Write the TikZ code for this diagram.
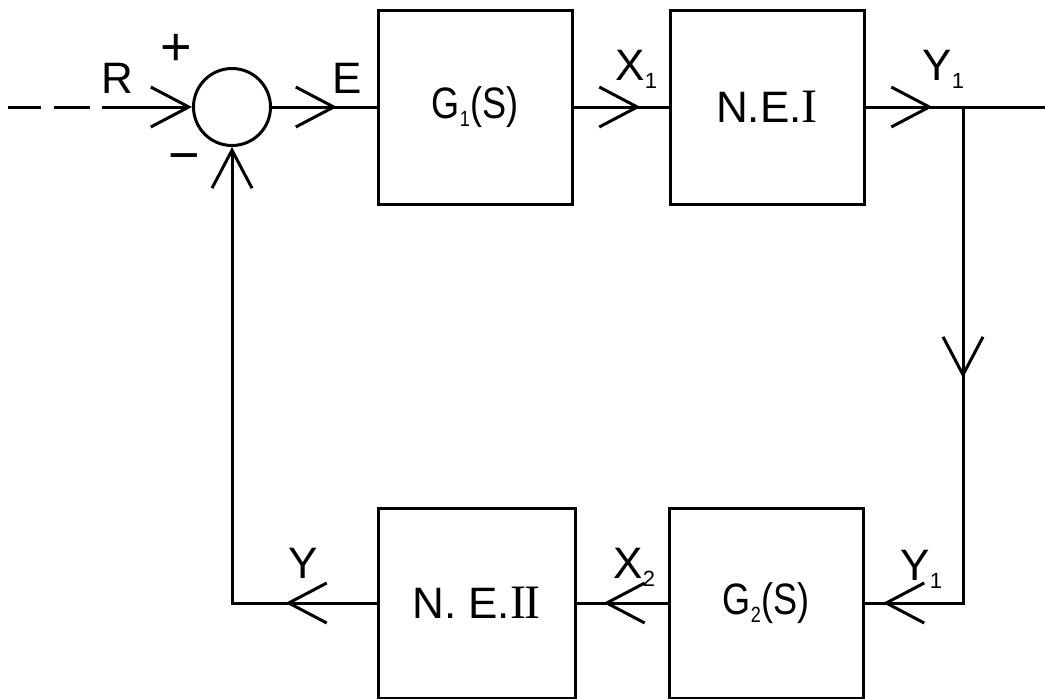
\documentclass[tikz,border=0pt]{standalone}
\usepackage{fontspec}
\setmainfont{Liberation Sans}
\newfontfamily\serfont{Liberation Serif}
\usetikzlibrary{arrows.meta,decorations.markings}
\newcommand\lowsub[1]{\raisebox{-8pt}{\fontsize{22}{22}\selectfont #1}}
\newcommand\romone{{\serfont\fontsize{48}{50}\selectfont I}}
\newcommand\romtwo{{\serfont\fontsize{48}{50}\selectfont I\kern-1.5pt I}}
\newcommand\narrow[1]{\scalebox{0.82}[1]{#1}}
\begin{document}
\begin{tikzpicture}[x=1pt,y=-1pt, line width=3pt,
  chev/.tip={Straight Barb[length=38pt,width=40pt]},
  blk/.style={draw, minimum width=194pt, minimum height=194pt, inner sep=0pt, line width=3pt, font=\fontsize{44}{50}\selectfont},
  lbl/.style={inner sep=0pt, anchor=base west, font=\fontsize{44}{50}\selectfont},
  sgn/.style={inner sep=0pt, font=\fontsize{54}{60}\selectfont},
  mid/.style={postaction={decorate}, decoration={markings, mark=at position #1 with {\arrow{chev}}}},
]
\useasboundingbox (0,0) rectangle (1045,699);
% blocks
\node[draw, circle, minimum size=77pt, inner sep=0pt] (sum) at (232,107) {};
\node[blk] (G1) at (475,107) {\narrow{G\lowsub{1}(S)}};
\node[blk] (NEI) at (767,107) {N.E.\romone};
\node[blk, minimum height=190pt] (G2) at (766,603) {\narrow{G\lowsub{2}(S)}};
\node[blk, minimum height=190pt, minimum width=197pt] (NEII) at (476.5,603) {N. E.\romtwo};
% coordinates
\coordinate (in) at (8,107);
\coordinate (rs) at (102,107);
\coordinate (out) at (1045,107);
\coordinate (br) at (963,107);
\coordinate (c1) at (963,603);
\coordinate (c2) at (232,603);
% connectors
\draw[dash pattern=on 33pt off 13pt on 36pt off 13pt] (in) -- (rs);
\draw[arrows={-chev}] (rs) -- (sum.west);
\draw[mid=65pt] (sum.east) -- (G1.west);
\draw[mid=67pt] (G1.east) -- (NEI.west);
\draw[mid=67pt] (NEI.east) -- (out);
\draw[postaction={decorate}, decoration={markings,
   mark=at position 271pt with {\arrow{chev}},
   mark=at position 576pt with {\arrow{chev}}}] (br) -- (c1) -- (G2.east);
\draw[mid=64pt] (G2.west) -- (NEII.east);
\draw[arrows={-chev}, mid=91pt] (NEII.west) -- (c2) -- (sum.south);
% labels
\node[lbl] (lR) at (100,93) {R};
\node[lbl] (lE) at (331,93) {E};
\node[lbl] (lX1) at (614,80) {X\lowsub{1}};
\node[lbl] (lY1) at (921,80) {Y\lowsub{1}};
\node[lbl] (lY1b) at (899,580) {Y\lowsub{1}};
\node[lbl] (lX2) at (612,578) {X\lowsub{2}};
\node[lbl] (lY) at (287,578) {Y};
\node[sgn] (plus) at (176,50) {+};
\node[sgn] (minus) at (184,164) {−};
\end{tikzpicture}
\end{document}
